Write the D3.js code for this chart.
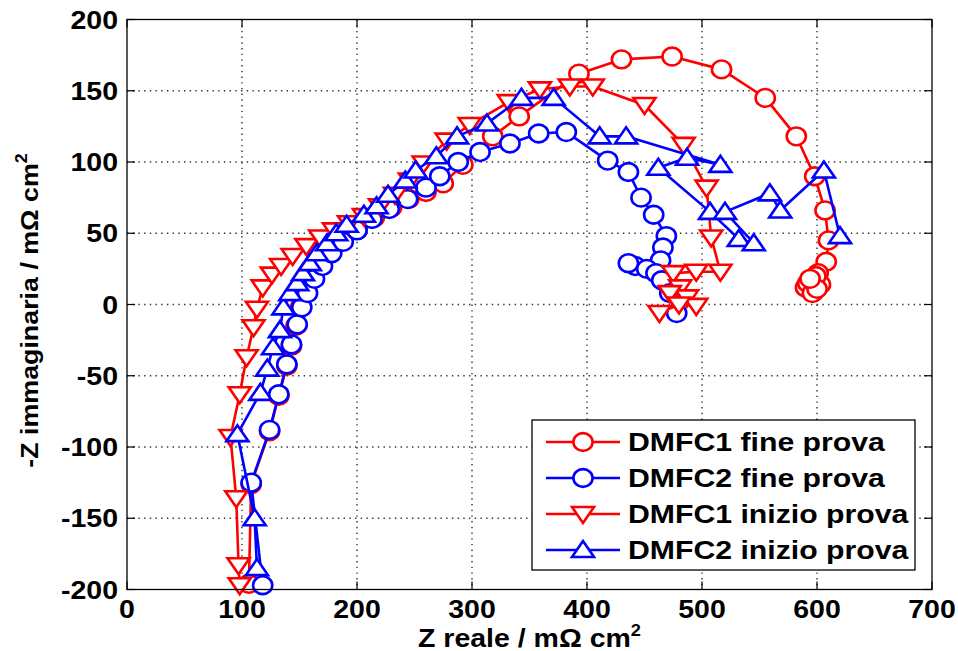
<!DOCTYPE html>
<html>
<head>
<meta charset="utf-8">
<script src="https://cdn.jsdelivr.net/npm/d3@7"></script>
<style>
  body { margin: 0; background: #fff; }
  text { font-family: "Liberation Sans", Arial, sans-serif; font-weight: bold; fill: #000; }
</style>
</head>
<body>
<svg id="chart" width="958" height="651"></svg>
<script>
// Axis ticks
const xTicks = [0, 100, 200, 300, 400, 500, 600, 700];
const yTicks = [-200, -150, -100, -50, 0, 50, 100, 150, 200];

// Series labels (legend order)
const seriesNames = ["DMFC1 fine prova", "DMFC2 fine prova", "DMFC1 inizio prova", "DMFC2 inizio prova"];

// DMFC1 fine prova — Z real / -Z imag (mΩ cm²)
const fine1Re = [106, 108, 124, 132, 139, 143, 147, 151, 156, 162, 170, 178, 188, 200, 215, 230, 245, 260, 275, 292, 318, 341, 393, 430, 474, 517, 555, 582, 598, 607, 610, 608, 601, 595, 590, 597, 603, 599, 592, 596, 600, 594];
const fine1Im = [-196, -126, -89, -64, -43, -29, -15, -2, 10, 21, 31, 40, 47, 53, 61, 68, 74, 79, 85, 98, 118, 132, 162, 172, 174, 165, 145, 118, 90, 66, 45, 30, 22, 16, 12, 9, 14, 20, 15, 8, 11, 18];

// DMFC2 fine prova
const fine2Re = [118, 108, 124, 132, 139, 143, 148, 152, 157, 163, 170, 178, 188, 200, 213, 228, 244, 260, 272, 288, 307, 333, 358, 382, 418, 436, 447, 458, 469, 466, 464, 442, 436, 452, 460, 465, 472, 478];
const fine2Im = [-197, -125, -88, -63, -42, -28, -14, -2, 8, 18, 27, 36, 44, 52, 60, 67, 74, 82, 90, 100, 107, 113, 120, 121, 101, 93, 75, 63, 48, 40, 31, 27, 29, 25, 22, 17, 8, -6];

// DMFC1 inizio prova
const start1Re = [98, 97, 95, 90, 98, 104, 110, 113, 118, 126, 134, 144, 156, 168, 180, 193, 206, 220, 233, 246, 258, 278, 298, 332, 359, 385, 405, 450, 484, 504, 508, 516, 495, 475, 481, 487, 472, 495, 480, 463];
const start1Im = [-197, -183, -136, -93, -63, -37, -16, -3, 12, 21, 27, 34, 41, 47, 52, 57, 62, 69, 77, 87, 99, 115, 126, 142, 151, 153, 153, 140, 112, 82, 47, 23, 23, 22, 12, 5, 8, -1, 0, -6];

// DMFC2 inizio prova
const start2Re = [113, 111, 96, 116, 122, 127, 133, 136, 142, 148, 153, 159, 165, 174, 182, 191, 206, 217, 227, 242, 251, 269, 287, 313, 343, 371, 411, 434, 516, 487, 462, 507, 532, 545, 520, 559, 568, 606, 620];
const start2Im = [-185, -150, -91, -62, -45, -30, -18, -2, 8, 15, 22, 29, 36, 43, 50, 56, 63, 69, 77, 87, 94, 104, 118, 127, 145, 145, 118, 118, 98, 103, 96, 65, 46, 43, 65, 78, 66, 94, 48];

const RED = "#ff0000", BLUE = "#0000ff";
const series = [
  { name: seriesNames[0], re: fine1Re, im: fine1Im, color: RED, marker: "circle" },
  { name: seriesNames[1], re: fine2Re, im: fine2Im, color: BLUE, marker: "circle" },
  { name: seriesNames[2], re: start1Re, im: start1Im, color: RED, marker: "down" },
  { name: seriesNames[3], re: start2Re, im: start2Im, color: BLUE, marker: "up" }
];

const svg = d3.select("#chart");
const plot = { left: 127, right: 932, top: 19.5, bottom: 589.5 };
const x = d3.scaleLinear().domain([0, 700]).range([plot.left, plot.right]);
const y = d3.scaleLinear().domain([-200, 200]).range([plot.bottom, plot.top]);
const SX = 1.14;   // glyph widening used for every label
const LW = 2.6;    // line and marker stroke width

svg.append("rect").attr("width", 958).attr("height", 651).attr("fill", "#fff");

// dotted grid
const grid = svg.append("g").attr("stroke", "#333").attr("stroke-width", 1.4)
  .attr("stroke-dasharray", "1.4,4.3");
grid.selectAll(".gx").data(xTicks.slice(1, -1)).join("line")
  .attr("x1", d => x(d)).attr("x2", d => x(d))
  .attr("y1", plot.top).attr("y2", plot.bottom);
grid.selectAll(".gy").data(yTicks.slice(1, -1)).join("line")
  .attr("y1", d => y(d)).attr("y2", d => y(d))
  .attr("x1", plot.left).attr("x2", plot.right);

// inward ticks on all four sides
const tickLen = 8;
const ticks = svg.append("g").attr("stroke", "#000").attr("stroke-width", 1.2);
xTicks.forEach(t => {
  ticks.append("line").attr("x1", x(t)).attr("x2", x(t)).attr("y1", plot.bottom).attr("y2", plot.bottom - tickLen);
  ticks.append("line").attr("x1", x(t)).attr("x2", x(t)).attr("y1", plot.top).attr("y2", plot.top + tickLen);
});
yTicks.forEach(t => {
  ticks.append("line").attr("y1", y(t)).attr("y2", y(t)).attr("x1", plot.left).attr("x2", plot.left + tickLen);
  ticks.append("line").attr("y1", y(t)).attr("y2", y(t)).attr("x1", plot.right).attr("x2", plot.right - tickLen);
});

// tick labels
const labels = svg.append("g").attr("font-size", 25);
xTicks.forEach(t => {
  labels.append("text").attr("text-anchor", "middle")
    .attr("transform", `translate(${x(t)},${plot.bottom + 28}) scale(${SX},1)`).text(t);
});
yTicks.forEach(t => {
  labels.append("text").attr("text-anchor", "end")
    .attr("transform", `translate(${plot.left - 9},${y(t) + 9}) scale(${SX},1)`).text(t);
});

// axis titles
const xt = svg.append("text").attr("font-size", 25).attr("text-anchor", "middle")
  .attr("transform", `translate(${(plot.left + plot.right) / 2},${plot.bottom + 57}) scale(${SX},1)`);
xt.append("tspan").text("Z reale / mΩ cm");
xt.append("tspan").attr("font-size", 16).attr("dy", -11).text("2");

const yt = svg.append("text").attr("font-size", 24).attr("text-anchor", "middle")
  .attr("transform", `translate(38,${(plot.top + plot.bottom) / 2 + 6}) rotate(-90) scale(${SX * 0.98},1)`);
yt.append("tspan").text("-Z immaginaria / mΩ cm");
yt.append("tspan").attr("font-size", 16).attr("dy", -11).text("2");

// marker shapes
function markerPath(kind) {
  const w = 11, h = 8;
  return kind === "down"
    ? `M${-w},${-h + 1}L${w},${-h + 1}L0,${h + 1}Z`
    : `M${-w},${h - 1}L${w},${h - 1}L0,${-h - 1}Z`;
}
function drawMarker(g, kind, color, cx, cy) {
  if (kind === "circle") {
    g.append("ellipse").attr("cx", cx).attr("cy", cy).attr("rx", 9.6).attr("ry", 8.9)
      .attr("fill", "#fff").attr("stroke", color).attr("stroke-width", LW);
  } else {
    g.append("path").attr("d", markerPath(kind))
      .attr("transform", `translate(${cx},${cy})`)
      .attr("fill", "#fff").attr("stroke", color).attr("stroke-width", LW)
      .attr("stroke-linejoin", "miter");
  }
}

// series: line then markers, in plotting order
const line = d3.line().x(d => x(d[0])).y(d => y(d[1]));
series.forEach(s => {
  const pts = s.re.map((v, i) => [v, s.im[i]]);
  const g = svg.append("g");
  g.append("path").datum(pts).attr("d", line)
    .attr("fill", "none").attr("stroke", s.color).attr("stroke-width", LW)
    .attr("stroke-linejoin", "round");
  pts.forEach(p => drawMarker(g, s.marker, s.color, x(p[0]), y(p[1])));
});

// plot frame
svg.append("rect").attr("x", plot.left).attr("y", plot.top)
  .attr("width", plot.right - plot.left).attr("height", plot.bottom - plot.top)
  .attr("fill", "none").attr("stroke", "#000").attr("stroke-width", 1.3);

// legend
const lg = { x: 532, y: 420, w: 383, h: 150 };
const legend = svg.append("g");
legend.append("rect").attr("x", lg.x).attr("y", lg.y).attr("width", lg.w).attr("height", lg.h)
  .attr("fill", "#fff").attr("stroke", "#000").attr("stroke-width", 1.3);
const rowY = d3.scalePoint().domain(seriesNames).range([lg.y + 22, lg.y + 130]);
series.forEach(s => {
  const ry = rowY(s.name);
  legend.append("line").attr("x1", lg.x + 14).attr("x2", lg.x + 88).attr("y1", ry).attr("y2", ry)
    .attr("stroke", s.color).attr("stroke-width", LW);
  drawMarker(legend, s.marker, s.color, lg.x + 51, ry);
  legend.append("text").attr("font-size", 25.5)
    .attr("transform", `translate(${lg.x + 96},${ry + 9}) scale(${SX * 1.04},1)`).text(s.name);
});
</script>
</body>
</html>
